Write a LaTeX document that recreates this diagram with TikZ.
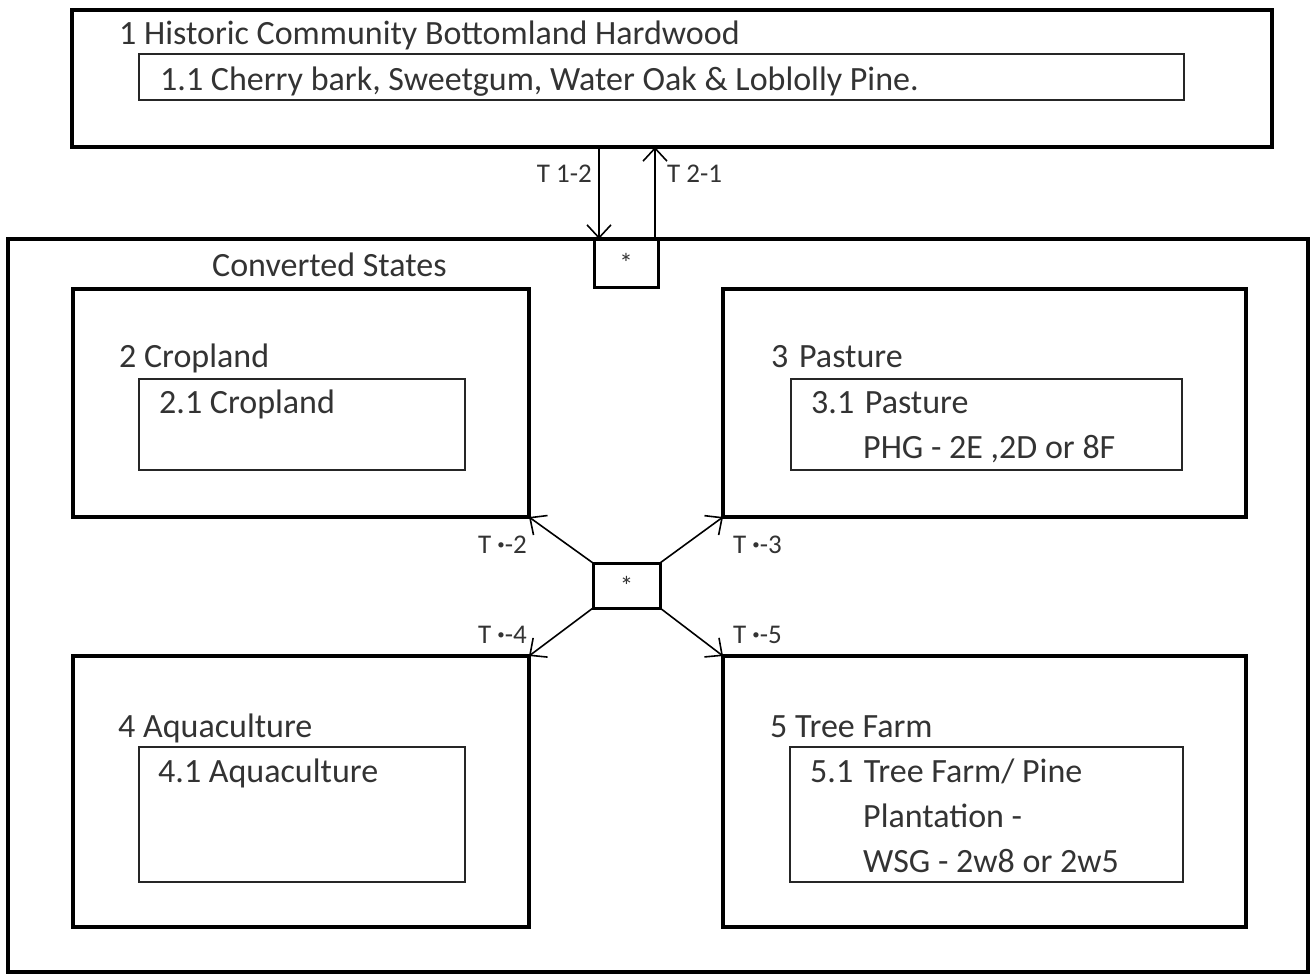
\documentclass[tikz,border=0pt]{standalone}
\usepackage{fontspec}
\setmainfont{Carlito}
\usetikzlibrary{arrows.meta}
\definecolor{txt}{HTML}{333333}
\newcommand{\sdot}{\raisebox{0.25ex}{\scalebox{0.55}{•}}}

\begin{document}
\begin{tikzpicture}[x=1pt,y=-1pt,
  outer/.style={draw,line width=3.5pt,anchor=north west,inner sep=0pt,outer sep=0pt},
  inner/.style={draw=black!85,line width=2pt,anchor=north west,inner sep=0pt,outer sep=0pt},
  starbox/.style={draw,line width=3pt,anchor=north west,inner sep=0pt,outer sep=0pt,text=txt,font=\fontsize{27}{27}\selectfont},
  lbl/.style={anchor=base west,inner sep=0pt,text=txt,font=\fontsize{34}{40}\selectfont},
  tlbl/.style={inner sep=0pt,text=txt,font=\fontsize{27}{30}\selectfont},
  arr/.style={-{Straight Barb[length=13pt,width=24pt,line width=1.6pt]},line width=1.6pt}]

\useasboundingbox (0,0) rectangle (1312,974);

\node[outer,minimum width=1200pt,minimum height=137pt] (s1) at (72,10) {};
\node[inner,minimum width=1045pt,minimum height=46pt] (s11) at (139,54) {};
\node[lbl] (t1) at (119,45) {1 Historic Community Bottomland Hardwood};
\node[lbl] (t11) at (160,90) {1.1 Cherry bark, Sweetgum, Water Oak \& Loblolly Pine.};

\node[outer,minimum width=1300pt,minimum height=733pt] (conv) at (8,239) {};
\node[starbox,minimum width=64pt,minimum height=48pt] (top) at (594,239) {*};
\node[lbl] (tconv) at (212,276) {Converted States};

\node[outer,minimum width=456pt,minimum height=228pt] (s2) at (73,289) {};
\node[inner,minimum width=326pt,minimum height=91pt] (s21) at (139,379) {};
\node[lbl] (t2) at (119,367) {2 Cropland};
\node[lbl] (t21) at (159,413) {2.1 Cropland};

\node[outer,minimum width=523pt,minimum height=228pt] (s3) at (723,289) {};
\node[inner,minimum width=391pt,minimum height=91pt] (s31) at (791,379) {};
\node[lbl] (t3) at (771,367) {3\hspace{3pt} Pasture};
\node[lbl] (t31) at (811,413) {3.1\hspace{3pt} Pasture};
\node[lbl] (t31b) at (863,458) {PHG - 2E ,2D or 8F};

\node[starbox,minimum width=67pt,minimum height=45pt] (mid) at (593,563) {*};

\node[outer,minimum width=456pt,minimum height=271pt] (s4) at (73,656) {};
\node[inner,minimum width=326pt,minimum height=135pt] (s41) at (139,747) {};
\node[lbl] (t4) at (118,737) {4 Aquaculture};
\node[lbl] (t41) at (158,782) {4.1 Aquaculture};

\node[outer,minimum width=523pt,minimum height=271pt] (s5) at (723,656) {};
\node[inner,minimum width=393pt,minimum height=135pt] (s51) at (790,747) {};
\node[lbl] (t5) at (770,737) {5 Tree Farm};
\node[lbl] (t51) at (810,782) {5.1\hspace{3pt} Tree Farm/ Pine};
\node[lbl] (t51b) at (863,827) {Plantation -};
\node[lbl] (t51c) at (863,872) {WSG - 2w8 or 2w5};

\draw[arr] ([xshift=5pt]top.north west |- s1.south) -- ([xshift=5pt]top.north west);
\draw[arr] ([xshift=-3pt]top.north east) -- ([xshift=-3pt]top.north east |- s1.south);
\node[tlbl,anchor=base east] (l12) at (592,182) {T 1-2};
\node[tlbl,anchor=base west] (l21) at (667,182) {T 2-1};

\draw[arr] (mid.north west) -- (s2.south east);
\draw[arr] (mid.north east) -- (s3.south west);
\draw[arr] (mid.south west) -- (s4.north east);
\draw[arr] (mid.south east) -- (s5.north west);
\node[tlbl,anchor=base east] (l2) at (527,553) {T \sdot-2};
\node[tlbl,anchor=base west] (l3) at (733,553) {T \sdot-3};
\node[tlbl,anchor=base east] (l4) at (527,643) {T \sdot-4};
\node[tlbl,anchor=base west] (l5) at (733,643) {T \sdot-5};

\end{tikzpicture}
\end{document}
